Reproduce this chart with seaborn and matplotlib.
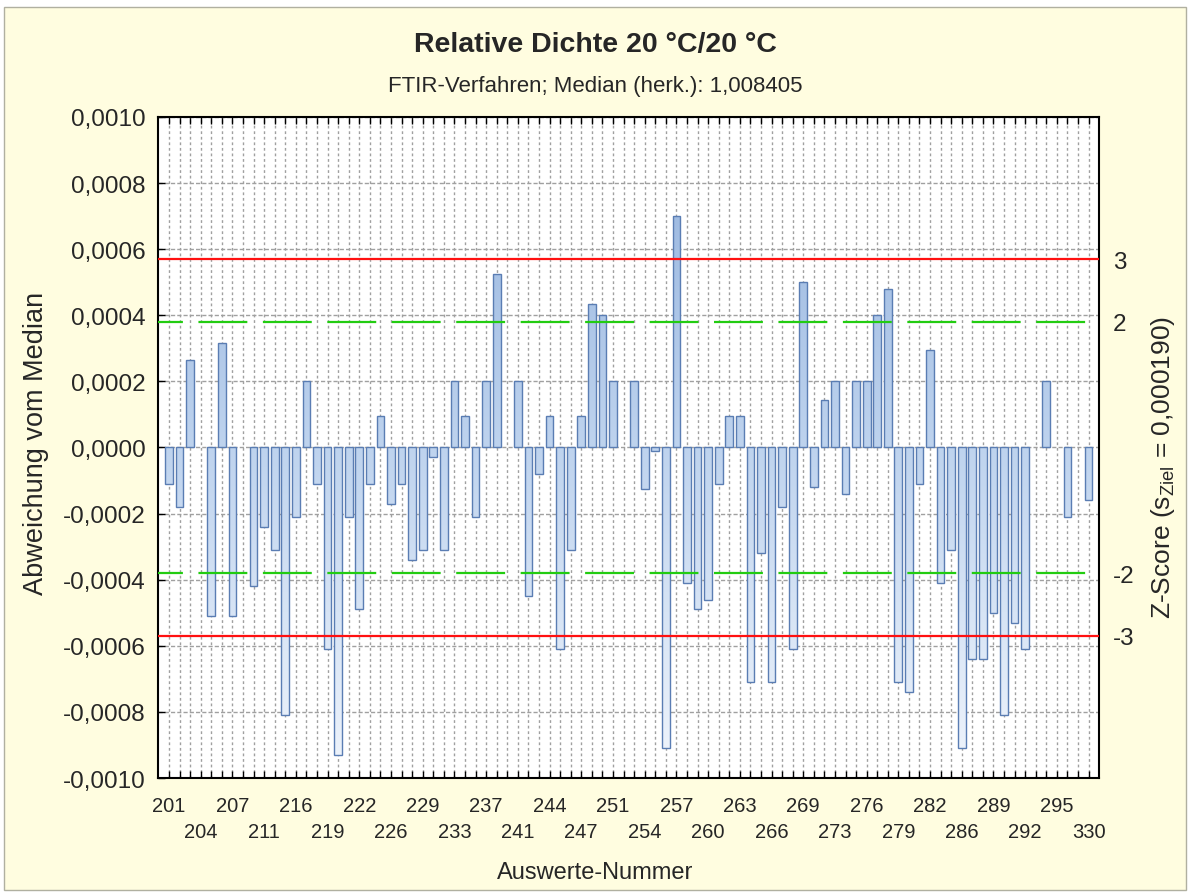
import numpy as np
import pandas as pd
import matplotlib.pyplot as plt
import seaborn as sns
from matplotlib.colors import LinearSegmentedColormap
from matplotlib.patches import Rectangle
from matplotlib.ticker import FuncFormatter, MultipleLocator

# Auswerte-Nummern (only every 3rd one is printed on the axis)
ids = [201, 202, 203, 204, 205, 206, 207, 208, 209, 211, 212, 214,
       216, 217, 218, 219, 220, 221, 222, 223, 224, 226, 227, 228,
       229, 230, 231, 233, 234, 235, 237, 238, 239, 241, 242, 243,
       244, 245, 246, 247, 248, 249, 251, 252, 253, 254, 255, 256,
       257, 258, 259, 260, 261, 262, 263, 264, 265, 266, 267, 268,
       269, 270, 271, 273, 274, 275, 276, 277, 278, 279, 280, 281,
       282, 283, 284, 286, 287, 288, 289, 290, 291, 292, 293, 294,
       295, 296, 297, 330]

# Abweichung vom Median (nan = no result)
abweichung = [-0.00011, -0.00018, 0.000265, np.nan, -0.00051, 0.000315,
              -0.00051, np.nan, -0.00042, -0.00024, -0.00031, -0.00081,
              -0.00021, 0.0002, -0.00011, -0.00061, -0.00093, -0.00021,
              -0.00049, -0.00011, 0.000095, -0.00017, -0.00011, -0.00034,
              -0.00031, -0.00003, -0.00031, 0.0002, 0.000095, -0.00021,
              0.0002, 0.000525, np.nan, 0.0002, -0.00045, -0.00008,
              0.000095, -0.00061, -0.00031, 0.000095, 0.000435, 0.0004,
              0.0002, np.nan, 0.0002, -0.000125, -0.00001, -0.00091,
              0.0007, -0.00041, -0.00049, -0.00046, -0.00011, 0.000095,
              0.000095, -0.00071, -0.00032, -0.00071, -0.00018, -0.00061,
              0.0005, -0.00012, 0.000145, 0.0002, -0.00014, 0.0002,
              0.0002, 0.0004, 0.000478, -0.00071, -0.00074, -0.00011,
              0.000295, -0.00041, -0.00031, -0.00091, -0.00064, -0.00064,
              -0.0005, -0.00081, -0.00053, -0.00061, np.nan, 0.0002,
              np.nan, -0.00021, np.nan, -0.00016]

s_ziel = 0.00019
z_scores = [3, 2, -2, -3]
median_text = "1,008405"

sns.set_style("ticks")
plt.rcParams["font.family"] = ["Liberation Sans", "DejaVu Sans"]
plt.rcParams["mathtext.fontset"] = "custom"
plt.rcParams["mathtext.rm"] = "Liberation Sans"
plt.rcParams["mathtext.it"] = "Liberation Sans:italic"

order = [str(i) for i in ids]
df = pd.DataFrame({"nr": order, "abw": abweichung}).dropna()

fig = plt.figure(figsize=(11.9, 8.95), dpi=100, facecolor="white")
fig.patches.append(Rectangle((4 / 1190, 4 / 895), 1182 / 1190, 883 / 895,
                             transform=fig.transFigure, facecolor="#fffde0",
                             edgecolor="#b0b0a0", lw=1, zorder=-10))

ax = fig.add_axes([0.1331, 0.1296, 0.7906, 0.7386])
ax.set_facecolor("white")

sns.barplot(data=df, x="nr", y="abw", order=order, width=0.73,
            color="#bcd2ee", saturation=1, edgecolor="#5a7db3",
            linewidth=1, ax=ax, zorder=3)

# vertical colour gradient inside the bars
cmap = LinearSegmentedColormap.from_list("blau", ["#f0f5fc", "#bed3ee", "#93b2dd"])
grad = np.linspace(0, 1, 256).reshape(-1, 1)
for p in ax.patches:
    x0 = p.get_x()
    x1 = x0 + p.get_width()
    im = ax.imshow(grad, extent=(x0, x1, -0.001, 0.001), origin="lower",
                   aspect="auto", cmap=cmap, zorder=2.9, interpolation="bilinear")
    im.set_clip_path(p)
    p.set_facecolor("none")

# grid
ax.set_axisbelow(True)
ax.grid(axis="x", color="#a0a0a0", linestyle=(0, (2, 2)), lw=1)
ax.grid(axis="y", color="#a0a0a0", linestyle=(0, (3, 1.5)), lw=1)

# limit lines
for z in [3, -3]:
    ax.axhline(z * s_ziel, color="#ff1010", lw=1.6, zorder=5)
for z in [2, -2]:
    ax.axhline(z * s_ziel, color="#22cc11", lw=1.6, zorder=5,
               linestyle=(10.8, (22, 7)))

ax.set_xlim(-1, len(ids))
ax.set_ylim(-0.001, 0.001)
ax.yaxis.set_major_locator(MultipleLocator(0.0002))
ax.yaxis.set_major_formatter(FuncFormatter(
    lambda v, pos: f"{0.0 if abs(v) < 1e-12 else v:.4f}".replace(".", ",")))

ax.set_xticks(range(len(ids)))
xlabels = []
for k, nr in enumerate(ids):
    if k % 3 == 0:
        xlabels.append(("\n" if (k // 3) % 2 else "") + str(nr))
    else:
        xlabels.append("")
ax.set_xticklabels(xlabels)
for t in ax.get_xticklabels():
    t.set_linespacing(1.45)

ax.tick_params(axis="x", direction="in", length=5, width=1, top=True,
               labelsize=14.5, pad=13, color="black")
ax.tick_params(axis="y", direction="in", length=5, width=1, right=True,
               labelsize=17.5, pad=9, color="black")
for s in ax.spines.values():
    s.set_visible(True)
    s.set_color("black")
    s.set_linewidth(1.5)

ax2 = ax.twinx()
ax2.set_ylim(ax.get_ylim())
ax2.set_yticks([z * s_ziel for z in z_scores])
ax2.set_yticklabels([str(z) for z in z_scores])
ax2.tick_params(axis="y", length=0, labelsize=17.5, pad=10)
for s in ax2.spines.values():
    s.set_visible(False)

ax.set_xlabel("")
ax.set_ylabel("")
fig.text(0.5, 0.0246, "Auswerte-Nummer", ha="center", va="center", fontsize=17)
fig.text(0.030, 0.505, "Abweichung vom Median", rotation=90,
         ha="center", va="center", fontsize=19.5)
fig.text(0.977, 0.478, r"Z-Score (s$_{\mathrm{Ziel}}$ = 0,000190)", rotation=90,
         ha="center", va="center", fontsize=19)

fig.text(0.5, 0.95, "Relative Dichte 20 °C/20 °C", ha="center", va="center",
         fontsize=20.5, fontweight="bold")
fig.text(0.5, 0.903, "FTIR-Verfahren; Median (herk.): " + median_text,
         ha="center", va="center", fontsize=16)

plt.savefig("out.png", dpi=100, facecolor=fig.get_facecolor())
